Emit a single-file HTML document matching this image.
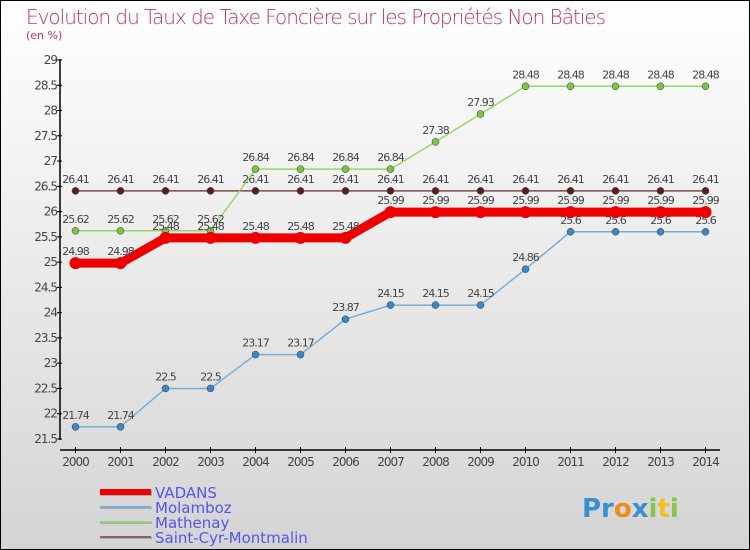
<!DOCTYPE html>
<html><head><meta charset="utf-8"><style>
body{margin:0}
svg{display:block;font-family:"DejaVu Sans","Liberation Sans",sans-serif}
</style></head><body>
<svg width="750" height="550" viewBox="0 0 750 550">
<defs><linearGradient id="bg" x1="0" y1="0" x2="0" y2="1"><stop offset="0" stop-color="#ffffff"/><stop offset="1" stop-color="#d4d4d4"/></linearGradient></defs>
<rect x="0.5" y="0.5" width="749" height="549" fill="url(#bg)" stroke="#000"/>
<text x="26" y="24" font-size="20" fill="#c0335f" style="font-family:'DejaVu Sans',sans-serif;font-weight:200" textLength="580">Evolution du Taux de Taxe Foncière sur les Propriétés Non Bâties</text>
<text x="26" y="39" font-size="11" fill="#c0335f">(en %)</text>
<g id="axes"></g>
<g id="series"></g>
<g id="legend"></g>
<text x="582" y="517" font-size="26" font-weight="bold"><tspan fill="#3a8fd0">Pr</tspan><tspan fill="#f08a1c">o</tspan><tspan fill="#3a8fd0">x</tspan><tspan fill="#8bc34a">i</tspan><tspan fill="#f0c020">t</tspan><tspan fill="#8bc34a">i</tspan></text>
</svg>
<script>
const years=[2000,2001,2002,2003,2004,2005,2006,2007,2008,2009,2010,2011,2012,2013,2014];
const yTicks=[21.5,22,22.5,23,23.5,24,24.5,25,25.5,26,26.5,27,27.5,28,28.5,29];
const vadans=[24.98,24.98,25.48,25.48,25.48,25.48,25.48,25.99,25.99,25.99,25.99,25.99,25.99,25.99,25.99];
const molamboz=[21.74,21.74,22.5,22.5,23.17,23.17,23.87,24.15,24.15,24.15,24.86,25.6,25.6,25.6,25.6];
const mathenay=[25.62,25.62,25.62,25.62,26.84,26.84,26.84,26.84,27.38,27.93,28.48,28.48,28.48,28.48,28.48];
const saintcyr=[26.41,26.41,26.41,26.41,26.41,26.41,26.41,26.41,26.41,26.41,26.41,26.41,26.41,26.41,26.41];
const NS='http://www.w3.org/2000/svg';
const xs=i=>75.5+i*45;
const ys=v=>60+(29-v)*50.53;
function mk(tag,attrs,parent,txt){const e=document.createElementNS(NS,tag);for(const k in attrs)e.setAttribute(k,attrs[k]);if(txt!==undefined)e.textContent=txt;parent.appendChild(e);return e;}
const ax=document.getElementById('axes');
let e=mk('line',{x1:60,y1:59,x2:60,y2:440,stroke:'#000','stroke-width':1.5},ax);


e=mk('line',{x1:60,y1:450,x2:720,y2:450,stroke:'#000','stroke-width':1.5},ax);


yTicks.forEach((t,i)=>{
  const y=ys(t);
  mk('line',{x1:57,y1:y,x2:62,y2:y,stroke:'#000'},ax);
  if(i<yTicks.length-1)mk('line',{x1:58,y1:y-25.3,x2:60,y2:y-25.3,stroke:'#e00'},ax);
  const l=mk('text',{x:57,y:y+4,'font-size':12,fill:'#444','text-anchor':'end','letter-spacing':'-1'},ax,String(t));
  
  
});
years.forEach((yr,i)=>{
  const x=xs(i);
  mk('line',{x1:x,y1:447,x2:x,y2:453,stroke:'#000'},ax);
  const l=mk('text',{x:x,y:466,'font-size':12,fill:'#444','text-anchor':'middle','letter-spacing':'-1'},ax,String(yr));
  
  
});
const sg=document.getElementById('series');
const series=[
 {name:'saint-cyr',data:saintcyr,color:'#7a4a4a',w:1.5,dot:'#5a2020',r:3.5},
 {name:'mathenay',data:mathenay,color:'#9ad46a',w:1.5,dot:'#7cc444',r:3.5},
 {name:'molamboz',data:molamboz,color:'#78aed6',w:1.5,dot:'#3a88c8',r:3.5},
 {name:'vadans',data:vadans,color:'#ee0000',w:9,dot:'#ee0000',r:6}
];
series.forEach(s=>{
  const g=mk('g',{},sg);
  
  
  const p=mk('polyline',{points:s.data.map((v,i)=>xs(i)+','+ys(v)).join(' '),fill:'none',stroke:s.color,'stroke-width':s.w},g);
  
  
  s.data.forEach((v,i)=>{
    const c=mk('circle',{cx:xs(i),cy:ys(v),r:s.r,fill:s.dot,stroke:s.name==='vadans'?'none':'#333','stroke-width':0.5},g);
    
    
    const t=mk('text',{x:xs(i),y:ys(v)-8,'font-size':11,fill:'#444','text-anchor':'middle','letter-spacing':'-1'},g,String(v));
    
    
  });
});
const lg=document.getElementById('legend');
const leg=[['VADANS','#ee0000',6],['Molamboz','#78aed6',2],['Mathenay','#9ad46a',2],['Saint-Cyr-Montmalin','#8a6060',2]];
leg.forEach((l,i)=>{
  const y=492+i*15;
  const g=mk('g',{},lg);
  
  
  mk('line',{x1:100,y1:y+1,x2:152,y2:y+1,stroke:'#aaa','stroke-width':l[2]},g);
  mk('line',{x1:100,y1:y,x2:151,y2:y,stroke:l[1],'stroke-width':l[2]},g);
  mk('text',{x:155,y:y+6,'font-size':15,fill:'#5555ee'},g,l[0]);
});
</script>
</body></html>
